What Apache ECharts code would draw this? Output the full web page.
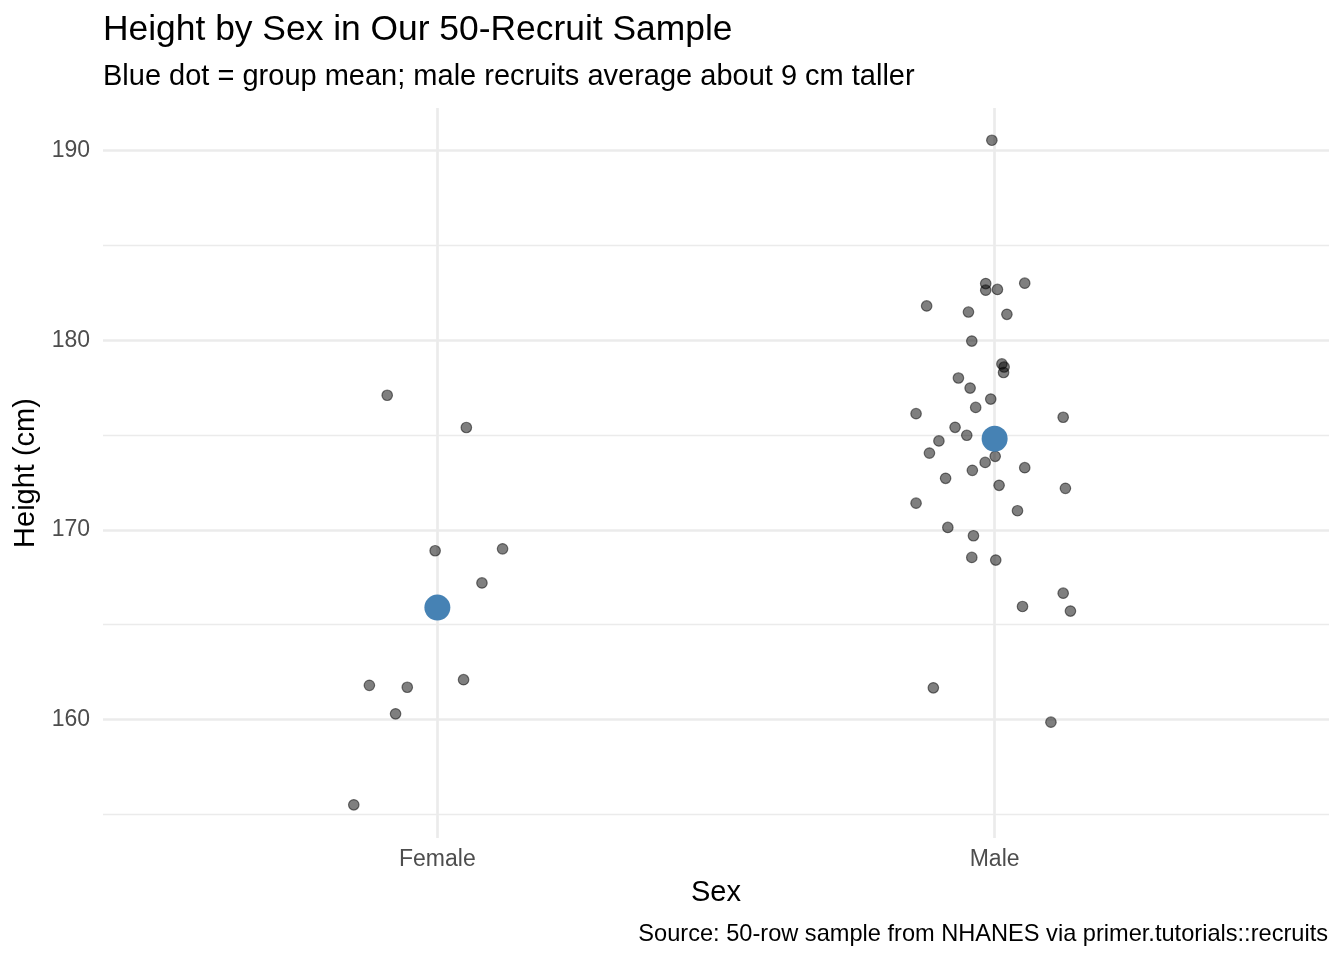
<!DOCTYPE html>
<html>
<head>
<meta charset="utf-8">
<title>Height by Sex</title>
<script src="https://cdn.jsdelivr.net/npm/echarts@6/dist/echarts.min.js"></script>
<style>
  html, body { margin: 0; padding: 0; background: #fff; }
  #chart { width: 1344px; height: 960px; }
</style>
</head>
<body>
<div id="chart"></div>
<script>
// categories sit at x = 1 and x = 2, points are jittered around them
const categories = ['Female', 'Male']

const femaleHeight = [177.1, 175.4, 168.9, 169.0, 167.2, 161.8, 161.7, 162.1, 160.3, 155.5]
const femaleJitter = [-0.090, 0.052, -0.004, 0.117, 0.080, -0.122, -0.054, 0.047, -0.075, -0.150]

const maleHeight = [
  190.55, 182.99, 182.64, 182.68, 183.01, 181.81, 181.49, 181.37, 179.96, 178.75,
  178.59, 178.30, 178.01, 177.48, 176.90, 176.46, 176.13, 175.94, 175.41, 174.99,
  174.69, 174.05, 173.88, 173.56, 173.14, 173.28, 172.72, 172.35, 172.19, 171.41,
  171.01, 170.13, 169.69, 168.55, 168.41, 166.66, 165.96, 165.72, 161.67, 159.86
]
const maleJitter = [
  -0.005, -0.016, -0.016, 0.005, 0.054, -0.122, -0.047, 0.022, -0.041, 0.013,
  0.017, 0.016, -0.065, -0.044, -0.007, -0.034, -0.141, 0.123, -0.071, -0.050,
  -0.100, -0.117, 0.001, -0.017, -0.040, 0.054, -0.088, 0.008, 0.127, -0.141,
  0.041, -0.084, -0.038, -0.041, 0.002, 0.123, 0.050, 0.136, -0.110, 0.101
]

const majorY = [160, 170, 180, 190]
const minorY = [155, 165, 175, 185]

const FONT = 'Liberation Sans'

const mean = (arr) => arr.reduce((a, b) => a + b, 0) / arr.length

const jitterPoints = (pos, heights, jitter) =>
  heights.map((h, i) => [pos + jitter[i], h])

const points = [
  ...jitterPoints(1, femaleHeight, femaleJitter),
  ...jitterPoints(2, maleHeight, maleJitter)
]
const means = [[1, mean(femaleHeight)], [2, mean(maleHeight)]]

const majorStyle = { color: '#ebebeb', width: 2.7, type: 'solid' }
const minorStyle = { color: '#ebebeb', width: 1.4, type: 'solid' }

const gridLines = [
  ...minorY.map(v => ({ yAxis: v, lineStyle: minorStyle })),
  ...majorY.map(v => ({ yAxis: v, lineStyle: majorStyle })),
  ...categories.map((c, i) => ({ xAxis: i + 1, lineStyle: majorStyle }))
]

const chart = echarts.init(document.getElementById('chart'))

chart.setOption({
  animation: false,
  backgroundColor: '#fff',
  textStyle: { fontFamily: FONT },
  title: [
    {
      text: 'Height by Sex in Our 50-Recruit Sample',
      left: 98, top: 8,
      textStyle: { fontFamily: FONT, fontSize: 35.4, fontWeight: 'normal', color: '#000' }
    },
    {
      text: 'Blue dot = group mean; male recruits average about 9 cm taller',
      left: 98, top: 57,
      textStyle: { fontFamily: FONT, fontSize: 29, fontWeight: 'normal', color: '#000' }
    },
    {
      text: 'Source: 50-row sample from NHANES via primer.tutorials::recruits',
      right: 11, top: 917,
      textStyle: { fontFamily: FONT, fontSize: 23.6, fontWeight: 'normal', color: '#000' }
    }
  ],
  grid: { left: 103, right: 15, top: 108, bottom: 122, containLabel: false },
  xAxis: {
    type: 'value',
    min: 0.4,
    max: 2.6,
    interval: 0.2,
    name: 'Sex',
    nameLocation: 'middle',
    nameGap: 40,
    nameTextStyle: { fontFamily: FONT, fontSize: 29, color: '#000' },
    axisLine: { show: false },
    axisTick: { show: false },
    splitLine: { show: false },
    axisLabel: {
      margin: 10,
      fontFamily: FONT,
      fontSize: 23,
      color: '#4d4d4d',
      formatter: (v) => {
        const i = Math.round(v)
        return Math.abs(v - i) < 1e-6 && categories[i - 1] ? categories[i - 1] : ''
      }
    }
  },
  yAxis: {
    type: 'value',
    min: 153.75,
    max: 192.25,
    name: 'Height (cm)',
    nameLocation: 'middle',
    nameGap: 62,
    nameTextStyle: { fontFamily: FONT, fontSize: 29, color: '#000' },
    axisLine: { show: false },
    axisTick: { show: false },
    splitLine: { show: false },
    axisLabel: {
      margin: 13,
      fontFamily: FONT,
      fontSize: 23,
      color: '#4d4d4d',
      formatter: (v) => (majorY.includes(v) ? String(v) : '')
    }
  },
  series: [
    {
      type: 'scatter',
      z: 1,
      data: [],
      silent: true,
      markLine: {
        silent: true,
        symbol: 'none',
        z: 1,
        label: { show: false },
        emphasis: { disabled: true },
        data: gridLines
      }
    },
    {
      name: 'Recruits',
      type: 'scatter',
      z: 3,
      symbolSize: 10.5,
      data: points,
      itemStyle: {
        color: 'rgba(0,0,0,0.5)',
        borderColor: 'rgba(0,0,0,0.5)',
        borderWidth: 1.2,
        opacity: 1
      }
    },
    {
      name: 'Group mean',
      type: 'scatter',
      z: 4,
      symbolSize: 26,
      data: means,
      itemStyle: { color: '#4682b4', opacity: 1 }
    }
  ]
})

window.addEventListener('resize', () => chart.resize())
</script>
</body>
</html>
